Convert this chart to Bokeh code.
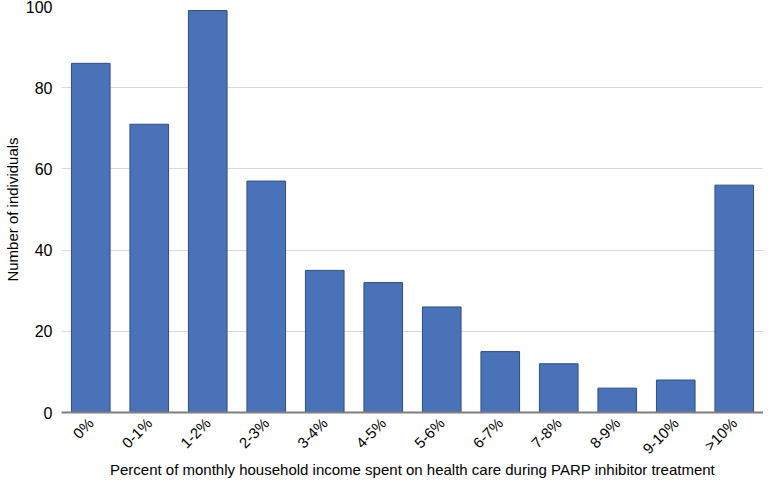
import math
from bokeh.plotting import figure
from bokeh.models import FactorRange, Range1d, FixedTicker
from bokeh.embed import file_html
from bokeh.resources import INLINE

categories = ["0%", "0-1%", "1-2%", "2-3%", "3-4%", "4-5%", "5-6%", "6-7%", "7-8%", "8-9%", "9-10%", ">10%"]
counts = [86, 71, 99, 57, 35, 32, 26, 15, 12, 6, 8, 56]
y_ticks = [0, 20, 40, 60, 80, 100]
x_title = "Percent of monthly household income spent on health care during PARP inhibitor treatment"

p = figure(width=763, height=481, output_backend="svg", toolbar_location=None,
           x_range=FactorRange(*categories, range_padding=0), y_range=Range1d(0, 100))
p.min_border_top = 6
p.min_border_right = 0
p.min_border_left = 0
p.min_border_bottom = 0
p.outline_line_color = None

p.vbar(x=categories, top=counts, width=0.66, fill_color="#4a72b8", line_color="#2d4e85", line_width=1)

p.yaxis.ticker = FixedTicker(ticks=y_ticks)
p.yaxis.axis_line_color = None
p.yaxis.major_tick_line_color = None
p.yaxis.minor_tick_line_color = None
p.yaxis.major_tick_out = 0
p.yaxis.major_tick_in = 0
p.yaxis.axis_label = "Number of individuals"
p.yaxis.axis_label_text_font = "Liberation Sans"
p.yaxis.axis_label_text_font_style = "normal"
p.yaxis.axis_label_text_font_size = "15px"
p.yaxis.axis_label_text_color = "black"
p.yaxis.major_label_text_font = "Liberation Sans"
p.yaxis.major_label_text_font_size = "16px"
p.yaxis.major_label_text_color = "black"
p.yaxis.major_label_standoff = 9
p.yaxis.axis_label_standoff = 2

p.xaxis.axis_line_color = "#7f7f7f"
p.xaxis.axis_line_width = 2
p.xaxis.major_tick_line_color = None
p.xaxis.minor_tick_line_color = None
p.xaxis.major_tick_out = 0
p.xaxis.major_tick_in = 0
p.xaxis.major_label_orientation = math.pi / 4
p.xaxis.major_label_text_font = "Liberation Sans"
p.xaxis.major_label_text_font_size = "15px"
p.xaxis.major_label_text_line_height = 1.0
p.xaxis.major_label_text_color = "black"
p.xaxis.major_label_standoff = 8
p.xaxis.axis_label = x_title
p.xaxis.axis_label_text_font = "Liberation Sans"
p.xaxis.axis_label_text_font_style = "normal"
p.xaxis.axis_label_text_font_size = "15px"
p.xaxis.axis_label_text_color = "black"
p.xaxis.axis_label_text_line_height = 1.0
p.xaxis.axis_label_standoff = -5

p.xgrid.grid_line_color = None
p.ygrid.grid_line_color = "#d9d9d9"
p.ygrid.grid_line_width = 1

open("out.html", "w").write(file_html(p, INLINE))
